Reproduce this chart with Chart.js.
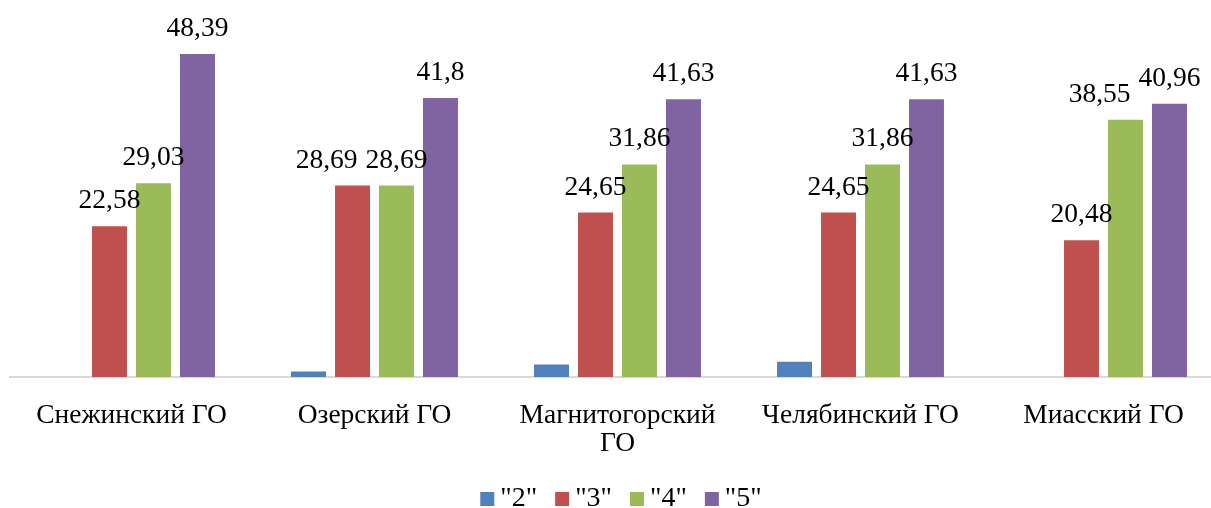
<!DOCTYPE html>
<html>
<head>
<meta charset="utf-8">
<script src="https://cdn.jsdelivr.net/npm/chart.js@4"></script>
<style>
  html, body { margin: 0; padding: 0; background: #fff; overflow: hidden; }
  #wrap { width: 1211px; height: 508px; overflow: hidden; }
</style>
</head>
<body>
<div id="wrap"><canvas id="c" width="1226" height="508"></canvas></div>
<script>
// Districts (a multi-line label is given as an array of lines)
const categories = ['Снежинский ГО', 'Озерский ГО', ['Магнитогорский', 'ГО'], 'Челябинский ГО', 'Миасский ГО'];

// Share of grades per district, %
const grade2 = [0, 0.82, 1.86, 2.3, 0];
const grade3 = [22.58, 28.69, 24.65, 24.65, 20.48];
const grade4 = [29.03, 28.69, 31.86, 31.86, 38.55];
const grade5 = [48.39, 41.8, 41.63, 41.63, 40.96];

const seriesNames = ['"2"', '"3"', '"4"', '"5"'];
const seriesColors = ['#4F81BD', '#C0504D', '#9BBB59', '#8064A2'];
const labelledSeries = [1, 2, 3];

const FONT = "'Liberation Serif', 'Times New Roman', serif";
const LABEL_SIZE = 27.5;

// Writes each bar's value above it, with a decimal comma.
// A label that would run into its right-hand neighbour is moved left.
const valueLabels = {
  id: 'valueLabels',
  afterDatasetsDraw(chart) {
    const ctx = chart.ctx;
    ctx.save();
    ctx.font = LABEL_SIZE + 'px ' + FONT;
    ctx.fillStyle = '#000';
    ctx.textAlign = 'center';
    ctx.textBaseline = 'alphabetic';
    const n = chart.data.labels.length;
    for (let i = 0; i < n; i++) {
      const items = labelledSeries.map(di => {
        const bar = chart.getDatasetMeta(di).data[i];
        const text = String(chart.data.datasets[di].data[i]).replace('.', ',');
        return { text, x: bar.x, y: bar.y - 18, w: ctx.measureText(text).width };
      });
      for (let k = items.length - 2; k >= 0; k--) {
        const a = items[k], b = items[k + 1];
        const overlapY = Math.abs(a.y - b.y) < LABEL_SIZE * 0.8;
        const rightA = a.x + a.w / 2, leftB = b.x - b.w / 2;
        if (overlapY && rightA > leftB - 8) {
          a.x = leftB - 8 - a.w / 2;
        }
      }
      items.forEach(it => ctx.fillText(it.text, it.x, it.y));
    }
    ctx.restore();
  }
};

// Legend row under the axis: square swatch, then the series name
const LEGEND_CENTER = 621;
const bottomLegend = {
  id: 'bottomLegend',
  afterDraw(chart) {
    const ctx = chart.ctx;
    const box = 14, gapText = 6, gapItem = 18, size = 28;
    ctx.save();
    ctx.font = size + 'px ' + FONT;
    ctx.textBaseline = 'alphabetic';
    ctx.textAlign = 'left';
    const ds = chart.data.datasets;
    const widths = ds.map(d => box + gapText + ctx.measureText(d.label).width);
    const total = widths.reduce((s, w) => s + w, 0) + gapItem * (ds.length - 1);
    let x = LEGEND_CENTER - total / 2;
    const baseY = 506;
    ds.forEach((d, k) => {
      ctx.fillStyle = d.backgroundColor;
      ctx.fillRect(x, baseY - 14, box, box);
      ctx.fillStyle = '#000';
      ctx.fillText(d.label, x + box + gapText, baseY);
      x += widths[k] + gapItem;
    });
    ctx.restore();
  }
};

const values = [grade2, grade3, grade4, grade5];

new Chart(document.getElementById('c'), {
  type: 'bar',
  data: {
    labels: categories,
    datasets: values.map((d, k) => ({
      label: seriesNames[k],
      data: d,
      backgroundColor: seriesColors[k],
      borderWidth: 0,
      categoryPercentage: 0.724,
      barPercentage: 0.795
    }))
  },
  options: {
    responsive: false,
    animation: false,
    layout: { padding: { left: 10, right: 1, top: 10, bottom: 33 } },
    plugins: {
      tooltip: { enabled: false },
      legend: { display: false }
    },
    scales: {
      x: {
        grid: { display: false },
        border: { display: true, color: '#d9d9d9', width: 2 },
        ticks: {
          color: '#000',
          padding: 17,
          maxRotation: 0,
          autoSkip: false,
          font: { family: FONT, size: LABEL_SIZE, lineHeight: 28 / LABEL_SIZE }
        }
      },
      y: {
        display: false,
        min: 0,
        max: 55
      }
    }
  },
  plugins: [valueLabels, bottomLegend]
});
</script>
</body>
</html>
